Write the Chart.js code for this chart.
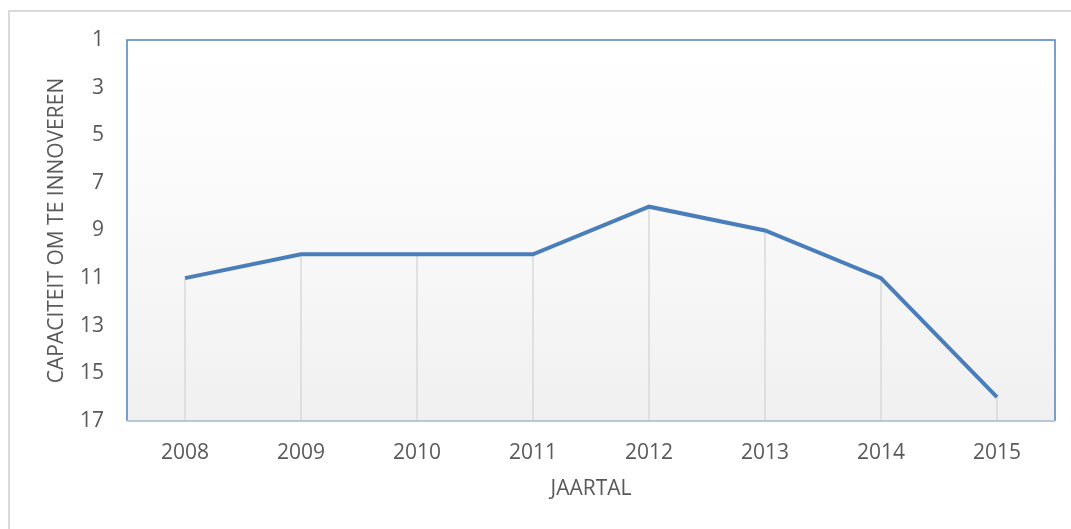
<!DOCTYPE html>
<html>
<head>
<meta charset="utf-8">
<script src="https://cdn.jsdelivr.net/npm/chart.js@4"></script>
<style>
  html, body { margin: 0; padding: 0; background: #fff; }
  #wrap { position: absolute; left: 0; top: 0; width: 1071px; height: 529px; }
</style>
</head>
<body>
<div id="wrap"><canvas id="myChart" width="1071" height="529"></canvas></div>
<script>
// data
const years = ["2008", "2009", "2010", "2011", "2012", "2013", "2014", "2015"];
const ranking = [11, 10, 10, 10, 8, 9, 11, 16];

const yMin = 1;
const yMax = 17;
const yStep = 2;

const textColor = "#595959";
const lineColor = "#4A7EBB";

// background gradient, frame and drop lines
const decorPlugin = {
  id: "decor",
  beforeDraw(chart) {
    const { ctx, chartArea: a } = chart;
    ctx.save();
    // outer chart frame (light gray)
    ctx.strokeStyle = "#d9d9d9";
    ctx.lineWidth = 2;
    ctx.beginPath();
    ctx.moveTo(9, chart.height);
    ctx.lineTo(9, 11);
    ctx.lineTo(chart.width, 11);
    ctx.stroke();

    let grad = ctx.createLinearGradient(0, a.top, 0, a.bottom);
    grad.addColorStop(0, "#ffffff");
    grad.addColorStop(0.35, "#fbfbfb");
    grad.addColorStop(1, "#f0f0f0");
    ctx.fillStyle = grad;
    ctx.fillRect(a.left, a.top, a.right - a.left, a.bottom - a.top);
    ctx.restore();
  },
  beforeDatasetsDraw(chart) {
    const { ctx, chartArea: a } = chart;
    const meta = chart.getDatasetMeta(0);
    ctx.save();
    ctx.strokeStyle = "#d9d9d9";
    ctx.lineWidth = 1.5;
    meta.data.forEach(pt => {
      ctx.beginPath();
      ctx.moveTo(pt.x, pt.y);
      ctx.lineTo(pt.x, a.bottom);
      ctx.stroke();
    });
    // plot frame
    ctx.strokeStyle = "#4F81BD";
    ctx.lineWidth = 1.5;
    ctx.beginPath();
    ctx.moveTo(a.left, a.bottom);
    ctx.lineTo(a.left, a.top);
    ctx.lineTo(a.right, a.top);
    ctx.lineTo(a.right, a.bottom);
    ctx.stroke();
    ctx.strokeStyle = "#b9c7dc";
    ctx.lineWidth = 2;
    ctx.beginPath();
    ctx.moveTo(a.left, a.bottom);
    ctx.lineTo(a.right, a.bottom);
    ctx.stroke();
    ctx.restore();
  }
};

const config = {
  type: "line",
  data: {
    labels: years,
    datasets: [{
      data: ranking,
      borderColor: lineColor,
      borderWidth: 4,
      pointRadius: 0,
      tension: 0,
      fill: false
    }]
  },
  options: {
    responsive: false,
    animation: false,
    layout: { padding: { left: 40, top: 40, right: 16, bottom: 23 } },
    plugins: { legend: { display: false }, tooltip: { enabled: false } },
    scales: {
      x: {
        offset: true,
        grid: { display: false, drawTicks: false },
        border: { display: false },
        ticks: { color: textColor, font: { family: "Open Sans", size: 21 }, padding: 19 },
        title: { display: true, text: "JAARTAL", color: textColor, font: { family: "Open Sans", size: 21 } },
        afterFit: scale => { scale.height = 85; }
      },
      y: {
        reverse: true,
        min: yMin,
        max: yMax,
        grid: { display: false, drawTicks: false },
        border: { display: false },
        ticks: { stepSize: yStep, color: textColor, font: { family: "Open Sans", size: 21 }, padding: 23 },
        title: { display: true, text: "CAPACITEIT OM TE INNOVEREN", color: textColor, font: { family: "Open Sans", size: 21 } },
        afterFit: scale => { scale.width = 87; }
      }
    }
  },
  plugins: [decorPlugin]
};

const myChart = new Chart(document.getElementById("myChart"), config);
</script>
</body>
</html>
